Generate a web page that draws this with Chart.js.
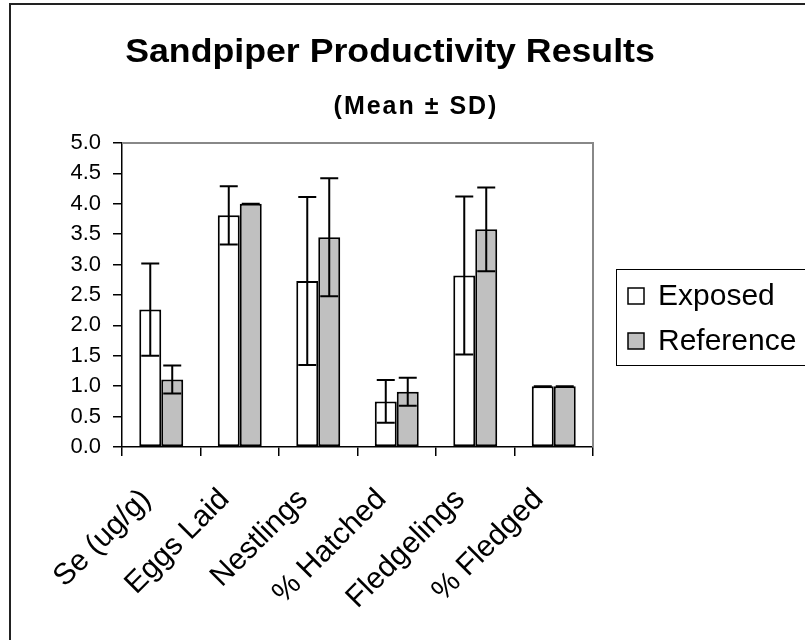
<!DOCTYPE html>
<html>
<head>
<meta charset="utf-8">
<script src="https://cdn.jsdelivr.net/npm/chart.js@4.4.1/dist/chart.umd.min.js"></script>
<style>
  body { margin: 0; background: #fff; }
</style>
</head>
<body>
<canvas id="myChart" width="805" height="640"></canvas>
<script>
// data (mean and SD per category)
var categories    = ['Se (ug/g)', 'Eggs Laid', 'Nestlings', '% Hatched', 'Fledgelings', '% Fledged'];
var exposedMean   = [2.26, 3.81, 2.73, 0.75, 2.82, 1.0];
var exposedSD     = [0.76, 0.48, 1.38, 0.35, 1.30, 0];
var referenceMean = [1.11, 4.0, 3.45, 0.91, 3.58, 1.0];
var referenceSD   = [0.23, 0, 0.97, 0.23, 0.69, 0];
var seriesNames   = ['Exposed', 'Reference'];
var titleText     = 'Sandpiper Productivity Results';
var subtitleText  = '(Mean \u00B1 SD)';

var FONT = '"Liberation Sans", Arial, sans-serif';

// whiskers for mean +/- sd
var errorBars = {
  id: 'errorBars',
  afterDatasetsDraw: function(chart) {
    var ctx = chart.ctx, y = chart.scales.y;
    chart.data.datasets.forEach(function(ds, i) {
      var meta = chart.getDatasetMeta(i);
      meta.data.forEach(function(bar, j) {
        var sd = ds.sd[j];
        var top = y.getPixelForValue(ds.data[j] + sd);
        var bot = y.getPixelForValue(ds.data[j] - sd);
        ctx.save();
        ctx.strokeStyle = '#000';
        ctx.lineWidth = 2;
        ctx.beginPath();
        ctx.moveTo(bar.x, top); ctx.lineTo(bar.x, bot);
        ctx.moveTo(bar.x - 9, top); ctx.lineTo(bar.x + 9, top);
        ctx.moveTo(bar.x - 9, bot); ctx.lineTo(bar.x + 9, bot);
        ctx.stroke();
        ctx.restore();
      });
    });
  }
};

// grey top/right plot border, outer frame, title, legend box
var decorations = {
  id: 'decorations',
  beforeDatasetsDraw: function(chart) {
    var ctx = chart.ctx, a = chart.chartArea;
    ctx.save();
    ctx.strokeStyle = '#888';
    ctx.lineWidth = 2;
    ctx.beginPath();
    ctx.moveTo(a.left, a.top); ctx.lineTo(a.right, a.top); ctx.lineTo(a.right, a.bottom);
    ctx.stroke();
    ctx.restore();
  },
  afterDraw: function(chart) {
    var ctx = chart.ctx;
    ctx.save();
    // outer chart frame (right/bottom edges run off the picture)
    ctx.strokeStyle = '#222';
    ctx.lineWidth = 2;
    ctx.beginPath();
    ctx.moveTo(10, 640); ctx.lineTo(10, 4); ctx.lineTo(805, 4);
    ctx.stroke();

    // title + subtitle
    ctx.fillStyle = '#000';
    ctx.textAlign = 'center';
    ctx.textBaseline = 'alphabetic';
    ctx.save();
    ctx.translate(390, 62);
    ctx.scale(1.05, 1);
    ctx.font = 'bold 34px ' + FONT;
    ctx.fillText(titleText, 0, 0);
    ctx.restore();
    ctx.font = 'bold 25px ' + FONT;
    ctx.letterSpacing = '2px';
    ctx.fillText(subtitleText, 416, 114);
    ctx.letterSpacing = '0px';

    // legend
    var lx = 616, ly = 269;
    ctx.strokeStyle = '#000';
    ctx.lineWidth = 1;
    ctx.strokeRect(lx + 0.5, ly + 0.5, 200, 96);
    ctx.font = '30px ' + FONT;
    ctx.textAlign = 'left';
    ctx.textBaseline = 'middle';
    chart.data.datasets.forEach(function(ds, i) {
      var cy = ly + 27 + i * 45;
      ctx.fillStyle = ds.backgroundColor;
      ctx.fillRect(lx + 12, cy - 8, 16, 16);
      ctx.lineWidth = 1.5;
      ctx.strokeRect(lx + 12, cy - 8, 16, 16);
      ctx.fillStyle = '#000';
      ctx.fillText(ds.label, lx + 42, cy + 1);
    });
    ctx.restore();
  }
};

var config = {
  type: 'bar',
  data: {
    labels: categories,
    datasets: [{
      label: seriesNames[0],
      data: exposedMean,
      sd: exposedSD,
      backgroundColor: '#ffffff',
      borderColor: '#000',
      borderWidth: 2,
      borderSkipped: false
    }, {
      label: seriesNames[1],
      data: referenceMean,
      sd: referenceSD,
      backgroundColor: '#c0c0c0',
      borderColor: '#000',
      borderWidth: 2,
      borderSkipped: false
    }]
  },
  options: {
    responsive: false,
    animation: false,
    devicePixelRatio: 1,
    layout: { padding: { top: 143, right: 212, left: 0, bottom: 0 } },
    datasets: { bar: { categoryPercentage: 0.56, barPercentage: 1.0 } },
    plugins: {
      legend: { display: false },
      title: { display: false },
      tooltip: { enabled: false }
    },
    scales: {
      x: {
        afterFit: function(scale) { scale.height = 193; },
        grid: { offset: true, drawOnChartArea: false, drawTicks: true, tickLength: 9, color: '#000', lineWidth: 1.5 },
        border: { color: '#000', width: 1.5 },
        ticks: {
          autoSkip: false, minRotation: 45, maxRotation: 45, padding: 26, labelOffset: -15,
          color: '#000', font: { family: FONT, size: 30 }
        }
      },
      y: {
        min: 0, max: 5,
        afterFit: function(scale) { scale.width = 122; },
        grid: { drawOnChartArea: false, drawTicks: true, tickLength: 9, color: '#000', lineWidth: 1.5 },
        border: { color: '#000', width: 1.5 },
        ticks: {
          stepSize: 0.5, padding: 12, color: '#000',
          font: { family: FONT, size: 22 },
          callback: function(v) { return Number(v).toFixed(1); }
        }
      }
    }
  },
  plugins: [errorBars, decorations]
};

var myChart = new Chart(document.getElementById('myChart'), config);
</script>
</body>
</html>
